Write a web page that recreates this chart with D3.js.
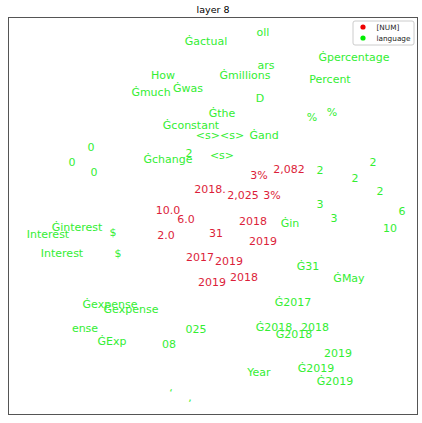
<!DOCTYPE html>
<html><head><meta charset="utf-8">
<script src="https://cdn.jsdelivr.net/npm/d3@7"></script>
<style>body{margin:0;background:#fff}svg{display:block}text{font-family:"DejaVu Sans",sans-serif}</style>
</head><body>
<script>
// label tokens, categories and 2-D projected coordinates (arbitrary units)
const labels = ["oll","Ġactual","Ġpercentage","ars","How","Ġmillions","Percent","Ġwas","Ġmuch","D",
"Ġthe","%","%","Ġconstant","<s><s>","Ġand","0","0","0","Ġchange","2","<s>","2","2","2","2","3","3","6","10",
"Ġin","Ġinterest","Interest","$","Interest","$","Ġ31","ĠMay","Ġexpense","Ġexpense","Ġ2017","ense","025",
"Ġ2018","2018","Ġ2018","ĠExp","08","2019","Year","Ġ2019","Ġ2019","‘",",",
"3%","2,082","2018.","2,025","3%","10.0","6.0","2018","2.0","31","2019","2017","2019","2018","2019"];
const categories = ["language","language","language","language","language","language","language","language","language","language",
"language","language","language","language","language","language","language","language","language","language","language","language","language","language","language","language","language","language","language","language",
"language","language","language","language","language","language","language","language","language","language","language","language","language",
"language","language","language","language","language","language","language","language","language","language","language",
"[NUM]","[NUM]","[NUM]","[NUM]","[NUM]","[NUM]","[NUM]","[NUM]","[NUM]","[NUM]","[NUM]","[NUM]","[NUM]","[NUM]","[NUM]"];
const xs = [5.0,-0.7,14.1,5.3,-5.0,3.2,11.7,-2.5,-6.2,4.7,
 0.9,9.9,11.9,-2.2,0.7,5.1,-12.2,-14.1,-11.9,-4.5,-2.4,0.9,10.7,16.0,14.2,16.7,10.7,12.1,18.9,17.7,
 7.7,-13.6,-16.5,-10.0,-15.1,-9.5,9.5,13.6,-10.3,-8.2,8.0,-12.8,-1.7,
 6.1,10.2,8.1,-10.1,-4.4,12.5,4.6,10.3,12.2,-4.2,-2.3,
 4.6,7.6,-0.3,3.0,5.9,-4.5,-2.7,4.0,-4.7,0.3,5.0,-1.3,1.6,3.1,-0.1];
const ys = [18.3,17.4,15.8,15.0,14.0,14.0,13.6,12.7,12.3,11.7,
 10.2,9.8,10.3,9.0,8.0,8.0,6.8,5.3,4.3,5.6,6.2,6.0,4.5,5.3,3.7,2.4,1.1,-0.3,0.4,-1.3,
 -0.8,-1.2,-1.9,-1.7,-3.8,-3.8,-5.1,-6.3,-8.9,-9.4,-8.7,-11.3,-11.4,
 -11.2,-11.2,-11.9,-12.6,-12.9,-13.8,-15.7,-15.3,-16.6,-17.8,-18.2,
 4.0,4.6,2.6,2.0,2.0,0.5,-0.4,-0.6,-2.0,-1.8,-2.6,-4.2,-4.6,-6.2,-6.7];

const W = 422, H = 423;
const svg = d3.select("body").append("svg").attr("width", W).attr("height", H);
const x = d3.scaleLinear().domain([-20.5, 20.5]).range([8, 418]);
const y = d3.scaleLinear().domain([19.8, -20]).range([17, 415]);
const color = d3.scaleOrdinal().domain(["[NUM]","language"]).range(["#dc1e3a","#33ee33"]);
const dotColor = d3.scaleOrdinal().domain(["[NUM]","language"]).range(["#ee0000","#00ee00"]);

svg.append("text").attr("x", 213).attr("y", 12.5).attr("text-anchor","middle")
  .attr("font-size", 9.5).attr("fill","#000").text("layer 8");

svg.append("g").selectAll("text").data(labels).join("text")
  .attr("x", (d,i) => x(xs[i])).attr("y", (d,i) => y(ys[i]))
  .attr("text-anchor","middle").attr("dominant-baseline","central")
  .attr("font-size", 11).attr("fill", (d,i) => color(categories[i]))
  .text(d => d);

svg.append("rect").attr("x", 8.5).attr("y", 17.5).attr("width", 409).attr("height", 397)
  .attr("fill","none").attr("stroke","#555").attr("stroke-width",1);

const lg = svg.append("g").attr("transform","translate(353,21)");
lg.append("rect").attr("width",61).attr("height",24).attr("rx",2)
  .attr("fill","#fff").attr("fill-opacity",0.8).attr("stroke","#ccc");
color.domain().forEach((c,i) => {
  lg.append("circle").attr("cx",10).attr("cy",6+i*11).attr("r",2.6).attr("fill",dotColor(c));
  lg.append("text").attr("x",23.5).attr("y",6+i*11).attr("dominant-baseline","central")
    .attr("font-size",7.3).attr("fill","#222").text(c);
});
</script>
</body></html>
